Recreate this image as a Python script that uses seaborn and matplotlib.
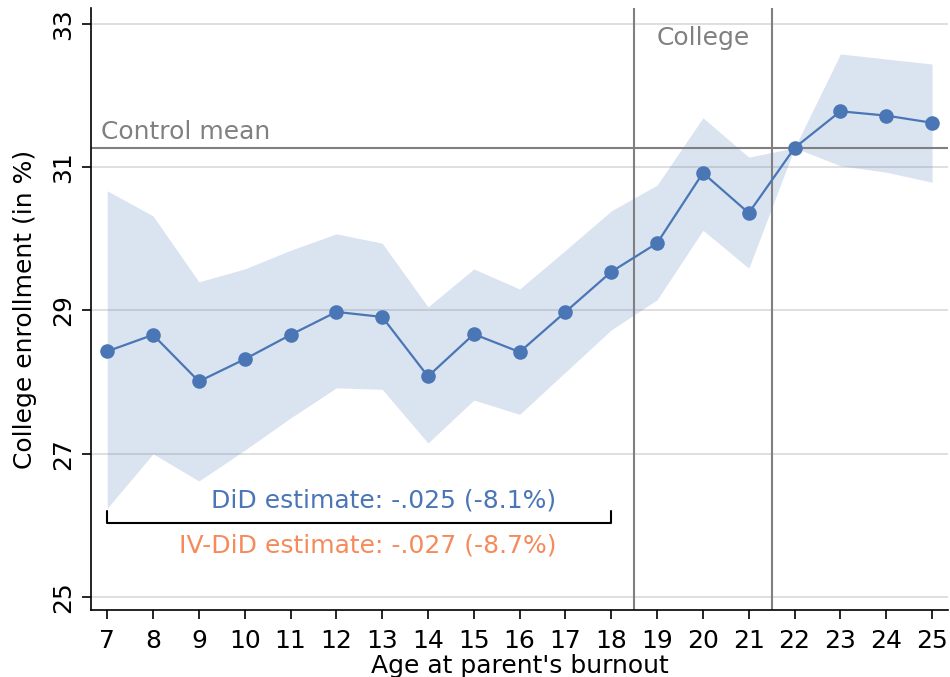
import matplotlib
matplotlib.use("Agg")
import matplotlib.pyplot as plt
import numpy as np
import pandas as pd
import seaborn as sns

ages = [7, 8, 9, 10, 11, 12, 13, 14, 15, 16, 17, 18, 19, 20, 21, 22, 23, 24, 25]
enroll = [28.43, 28.66, 28.01, 28.32, 28.66, 28.98, 28.91, 28.08, 28.67, 28.42,
          28.98, 29.54, 29.94, 30.92, 30.36, 31.27, 31.78, 31.72, 31.62]
ci_upper = [30.67, 30.32, 29.40, 29.58, 29.84, 30.07, 29.94, 29.05, 29.58, 29.30,
            29.84, 30.39, 30.75, 31.69, 31.14, 31.27, 32.58, 32.51, 32.44]
ci_lower = [26.24, 27.00, 26.62, 27.05, 27.50, 27.92, 27.90, 27.15, 27.75, 27.55,
            28.14, 28.73, 29.15, 30.12, 29.59, 31.27, 31.02, 30.93, 30.79]
control_mean = 31.27
college_bounds = [18.5, 21.5]
yticks = [25, 27, 29, 31, 33]

blue = "#4a76b6"
orange = "#f58b5a"
grey = "#808080"

df = pd.DataFrame({"age": ages, "enroll": enroll, "lo": ci_lower, "hi": ci_upper})

sns.set_theme(style="ticks")
plt.rcParams["font.family"] = ["DejaVu Sans"]

fig, ax = plt.subplots(figsize=(9.5, 6.77), dpi=100)
fig.subplots_adjust(left=0.096, right=0.998, bottom=0.099, top=0.988)

ax.fill_between(df["age"], df["lo"], df["hi"], color=blue, alpha=0.2, linewidth=0, zorder=1)
sns.lineplot(data=df, x="age", y="enroll", ax=ax, color=blue, marker="o",
             markersize=10.5, markeredgewidth=0, linewidth=1.6, zorder=3)

for y in yticks:
    ax.axhline(y, color="#d9d9d9", linewidth=1.2, zorder=0.5)
ax.axhline(control_mean, color=grey, linewidth=1.5, zorder=2)
for x in college_bounds:
    ax.axvline(x, color=grey, linewidth=1.5, zorder=2)

ax.text(6.87, control_mean + 0.05, "Control mean", color=grey, fontsize=18,
        ha="left", va="bottom")
ax.text(20.0, 32.8, "College", color=grey, fontsize=18, ha="center", va="center")

# bracket over pre-college ages
ax.plot([7, 7, 18, 18], [26.2, 26.04, 26.04, 26.2], color="black", linewidth=1.5,
        zorder=3)
ax.text(16.8, 26.35, "DiD estimate: -.025 (-8.1%)", color=blue, fontsize=18,
        ha="right", va="center")
ax.text(16.8, 25.72, "IV-DiD estimate: -.027 (-8.7%)", color=orange, fontsize=18,
        ha="right", va="center")

ax.set_xlim(6.65, 25.35)
ax.set_ylim(24.82, 33.22)
ax.set_xticks(ages)
ax.set_yticks(yticks)
ax.tick_params(axis="both", labelsize=18, colors="black", length=6.5, width=1.2, pad=5)
ax.tick_params(axis="x", pad=7)
for lab in ax.get_yticklabels():
    lab.set_rotation(90)
    lab.set_va("center")
ax.set_xlabel("Age at parent's burnout", fontsize=18, labelpad=1, color="black")
ax.set_ylabel("College enrollment (in %)", fontsize=18, labelpad=10, color="black")
sns.despine(ax=ax)
for s in ["left", "bottom"]:
    ax.spines[s].set_color("black")
    ax.spines[s].set_linewidth(1.2)

fig.savefig("out.png", dpi=100)
